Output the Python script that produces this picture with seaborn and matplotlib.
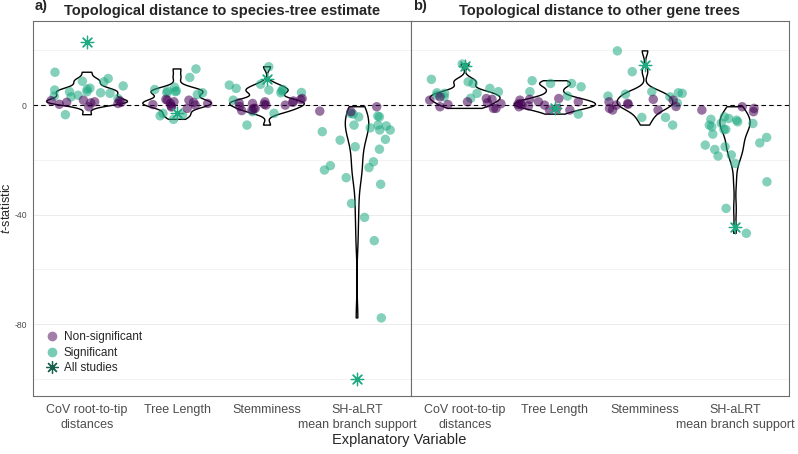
import numpy as np
import pandas as pd
import matplotlib
matplotlib.use("Agg")
import matplotlib.pyplot as plt
from matplotlib.lines import Line2D
import seaborn as sns

# ---- data ----
categories = ["CoV root-to-tip\ndistances", "Tree Length", "Stemminess",
              "SH-aLRT\nmean branch support"]

# panel a) distance to species-tree estimate
sp_cov_sig = [12.0, 9.7, 8.7, 8.5, 7.0, 6.2, 5.8, 5.5, 4.9, 4.9, 4.5, 4.3, 3.6, 3.3, 3.0, 2.4, -3.5]
sp_cov_ns = [1.8, 1.6, 1.6, 1.2, 1.0, 1.0, 0.8, 0.6, 0.3, -0.6]
sp_tl_sig = [13.2, 10.1, 6.5, 5.7, 5.2, 5.2, 4.9, 4.5, 4.5, 3.9, -3.0, -3.6, -3.9, -5.2]
sp_tl_ns = [2.1, 1.8, 1.8, 1.2, 1.0, 0.6, 0.6, 0.2, 0.0, -0.3, -0.7, -1.2]
sp_st_sig = [14.0, 7.6, 7.3, 6.1, 5.7, 5.5, 5.2, 4.6, 4.5, 1.8, -2.4, -3.0, -7.3]
sp_st_ns = [2.4, 2.0, 1.5, 1.2, 1.0, 0.8, 0.6, 0.3, 0.0, 0.0, -0.5, -1.2, -1.2, -1.8, -2.0]
sp_sh_sig = [-3.0, -3.3, -4.0, -4.3, -4.3, -7.3, -7.3, -7.6, -8.3, -9.1, -9.1, -9.7, -12.5,
             -12.8, -15.2, -16.1, -20.7, -22.1, -22.8, -23.7, -26.5, -28.9, -35.9, -41.0,
             -49.5, -77.7]
sp_sh_ns = [-0.6, -2.2, -2.4]
sp_all = [23.0, -3.0, 9.7, -100.0]

# panel b) distance to other gene trees
gt_cov_sig = [15.0, 9.4, 8.5, 7.9, 6.1, 4.9, 4.5, 4.3, 4.3, 3.6, 3.0, 2.5]
gt_cov_ns = [3.0, 2.4, 2.1, 1.8, 1.2, 0.8, 0.5, 0.2, -0.6, -1.2, -1.2]
gt_tl_sig = [8.9, 7.9, 7.9, 6.7, 4.9, 3.3, -3.3]
gt_tl_ns = [2.4, 2.1, 1.8, 1.2, 1.2, 0.6, 0.3, 0.0, 0.0, -0.3, -0.6, -1.2, -1.8, -1.8]
gt_st_sig = [19.8, 12.2, 4.9, 4.5, 4.3, 4.0, 3.3, 3.0, 0.8, -4.5, -4.5, -7.3]
gt_st_ns = [2.1, 1.8, 1.2, 0.6, 0.3, 0.0, -0.5, -1.2, -1.8, -1.8]
gt_sh_sig = [-4.3, -4.9, -5.2, -5.5, -6.1, -6.6, -6.7, -7.3, -7.9, -8.9, -8.9, -10.6, -11.8,
             -13.8, -14.6, -15.2, -16.2, -18.2, -18.6, -21.3, -28.0, -37.7, -46.8]
gt_sh_ns = [-0.6, -1.2, -1.8, -2.4]
gt_all = [14.2, -1.2, 14.6, -44.6]

titles = ["Topological distance to species-tree estimate",
          "Topological distance to other gene trees"]
panel_tags = ["a)", "b)"]

PURPLE = "#440154"
GREEN = "#1FAA82"


def build_frame(sig_lists, ns_lists):
    rows = []
    for cat, sig, ns in zip(categories, sig_lists, ns_lists):
        rows += [(cat, v, "Significant") for v in sig]
        rows += [(cat, v, "Non-significant") for v in ns]
    return pd.DataFrame(rows, columns=["variable", "t", "sig"])


panels = [
    (build_frame([sp_cov_sig, sp_tl_sig, sp_st_sig, sp_sh_sig],
                 [sp_cov_ns, sp_tl_ns, sp_st_ns, sp_sh_ns]), sp_all),
    (build_frame([gt_cov_sig, gt_tl_sig, gt_st_sig, gt_sh_sig],
                 [gt_cov_ns, gt_tl_ns, gt_st_ns, gt_sh_ns]), gt_all),
]

sns.set_style("white")
plt.rcParams["font.family"] = ["Liberation Sans", "DejaVu Sans"]
plt.rcParams["mathtext.fontset"] = "custom"
plt.rcParams["mathtext.rm"] = "Liberation Sans"
plt.rcParams["mathtext.it"] = "Liberation Sans:italic"
plt.rcParams["axes.unicode_minus"] = False

np.random.seed(7)
fig = plt.figure(figsize=(7.98, 4.54), dpi=100)
axes = fig.subplots(1, 2, sharey=True)
fig.subplots_adjust(left=0.0414, right=0.9887, top=0.9537, bottom=0.1278, wspace=0)

asterisk = (8, 2, 0)
for i, (ax, (df, all_vals)) in enumerate(zip(axes, panels)):
    ax.axhline(0, color="black", lw=0.8, ls=(0, (4, 3)), zorder=1)
    sns.violinplot(data=df, x="variable", y="t", order=categories, ax=ax,
                   fill=False, color="black", linewidth=1.0, inner=None,
                   cut=0, density_norm="area", bw_adjust=0.6, width=0.9)
    sns.stripplot(data=df, x="variable", y="t", hue="sig", order=categories,
                  hue_order=["Non-significant", "Significant"],
                  palette={"Non-significant": PURPLE, "Significant": GREEN},
                  jitter=0.42, size=6.8, alpha=0.55, linewidth=0, ax=ax,
                  legend=False, zorder=3)
    sns.stripplot(x=categories, y=all_vals, order=categories, jitter=0.3,
                  marker=asterisk, size=9, color=GREEN, linewidth=0.9,
                  ax=ax, zorder=4)

    ax.set_xlim(-0.6, 3.6)
    ax.set_ylim(-106.2, 30.7)
    ax.set_yticks([0, -40, -80])
    ax.set_yticks([20, -20, -60, -100], minor=True)
    ax.yaxis.grid(True, which="major", color="#E8E8E8", lw=0.6)
    ax.yaxis.grid(True, which="minor", color="#EFEFEF", lw=0.5)
    ax.set_axisbelow(True)
    ax.set_xlabel("")
    ax.set_ylabel("")
    for sp in ax.spines.values():
        sp.set_color("#6E6E6E")
        sp.set_linewidth(0.8)
    ax.tick_params(axis="x", length=3, width=0.6, color="#555555",
                   labelsize=9, labelcolor="#4D4D4D", pad=3)
    for lab in ax.get_xticklabels():
        lab.set_linespacing(1.35)
    ax.tick_params(axis="y", which="major", length=3, width=0.6, color="#555555",
                   labelsize=6.2, labelcolor="#4D4D4D", pad=1.5)
    ax.tick_params(axis="y", which="minor", length=0)
    ax.set_title(titles[i], fontsize=10.5, fontweight="bold", pad=4.5)
    ax.text(0.005, 1.022, panel_tags[i], transform=ax.transAxes,
            fontsize=10.5, fontweight="bold", ha="left", va="bottom")

axes[1].tick_params(axis="y", which="major", length=0)
axes[0].set_ylabel("$\\it{t}$-statistic", fontsize=9.2)
axes[0].yaxis.set_label_coords(-0.052, 0.5)
fig.text(0.5, 0.016, "Explanatory Variable", ha="center", va="bottom", fontsize=10.5)

handles = [
    Line2D([], [], ls="", marker="o", ms=7, color=PURPLE, alpha=0.5, mec="none"),
    Line2D([], [], ls="", marker="o", ms=7, color=GREEN, alpha=0.6, mec="none"),
    Line2D([], [], ls="", marker=asterisk, ms=9, color="#17614C", mew=0.9),
]
axes[0].legend(handles, ["Non-significant", "Significant", "All studies"],
               loc="lower left", bbox_to_anchor=(0.005, 0.036), frameon=False,
               fontsize=8.5, handletextpad=0.25, labelspacing=0.3,
               borderaxespad=0.3, handlelength=1.5)

fig.savefig("out.png", dpi=100)
